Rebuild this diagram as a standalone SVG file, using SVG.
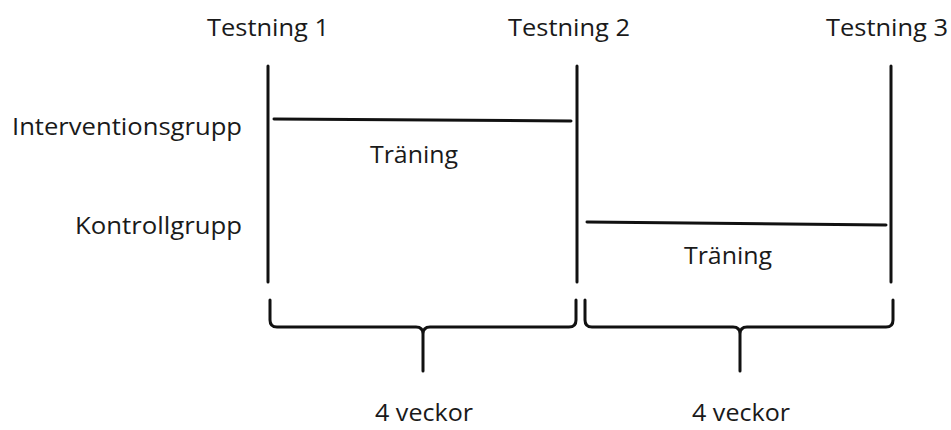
<svg xmlns="http://www.w3.org/2000/svg" width="951" height="430" viewBox="0 0 951 430">
  <style>
    text { font-family: "Open Sans", "Liberation Sans", sans-serif; font-size: 24px; fill: #1a1a1a; }
    .mid { text-anchor: middle; }
    .end { text-anchor: end; }
    .ln { stroke: #111; stroke-width: 3; fill: none; stroke-linecap: round; stroke-linejoin: round; }
  </style>
  <rect width="951" height="430" fill="#fff"/>

  <!-- test points -->
  <g id="testning1">
    <text x="268" y="36" class="mid" textLength="122" lengthAdjust="spacingAndGlyphs">Testning 1</text>
    <line class="ln" x1="268" y1="66" x2="268" y2="282"/>
  </g>
  <g id="testning2">
    <text x="569" y="36" class="mid" textLength="122" lengthAdjust="spacingAndGlyphs">Testning 2</text>
    <line class="ln" x1="577" y1="66" x2="577" y2="282"/>
  </g>
  <g id="testning3">
    <text x="887" y="36" class="mid" textLength="122" lengthAdjust="spacingAndGlyphs">Testning 3</text>
    <line class="ln" x1="891" y1="66" x2="891" y2="282"/>
  </g>

  <!-- group labels -->
  <g id="interventionsgrupp">
    <text x="242" y="135" class="end" textLength="230" lengthAdjust="spacingAndGlyphs">Interventionsgrupp</text>
  </g>
  <g id="kontrollgrupp">
    <text x="242" y="234" class="end" textLength="167" lengthAdjust="spacingAndGlyphs">Kontrollgrupp</text>
  </g>

  <!-- training periods -->
  <g id="traning1">
    <line class="ln" x1="274" y1="119" x2="571" y2="121"/>
    <text x="414" y="163" class="mid" textLength="88" lengthAdjust="spacingAndGlyphs">Träning</text>
  </g>
  <g id="traning2">
    <line class="ln" x1="587" y1="222" x2="886" y2="225"/>
    <text x="728" y="264" class="mid" textLength="88" lengthAdjust="spacingAndGlyphs">Träning</text>
  </g>

  <!-- period braces -->
  <g id="connectors">
    <path class="ln" d="M270,300 V320 Q270,327 277,327 H416 Q423,327 423,334 V371 M423,334 Q423,327 430,327 H569 Q576,327 576,320 V300"/>
    <path class="ln" d="M585,300 V320 Q585,327 592,327 H733 Q740,327 740,334 V371 M740,334 Q740,327 747,327 H886 Q893,327 893,320 V300"/>
  </g>

  <g id="period1">
    <text x="424" y="421" class="mid" textLength="98" lengthAdjust="spacingAndGlyphs">4 veckor</text>
  </g>
  <g id="period2">
    <text x="741" y="421" class="mid" textLength="98" lengthAdjust="spacingAndGlyphs">4 veckor</text>
  </g>
</svg>
